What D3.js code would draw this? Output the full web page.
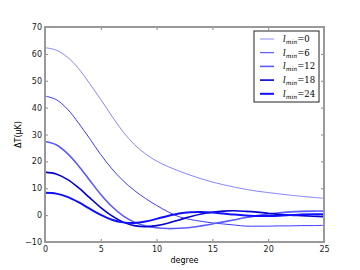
<!DOCTYPE html>
<meta charset="utf-8">
<script src="https://d3js.org/d3.v7.min.js"></script>
<style>
  body { margin: 0; background: #fff; }
</style>
<div id="chart"></div>
<script>

// data, one value per degree 0..25
var degrees = d3.range(0, 26);
var lmins = [0, 6, 12, 18, 24];
var l0  = [62.3, 61.4, 58.8, 54.6, 49.0, 43.0, 36.8, 31.0, 26.3, 22.8, 20.1, 18.1, 16.4, 14.9, 13.5, 12.3, 11.3, 10.4, 9.6, 8.9, 8.4, 7.9, 7.4, 7.0, 6.6, 6.3];
var l6  = [44.3, 43.0, 39.5, 34.3, 28.5, 22.5, 17.2, 12.8, 9.2, 6.2, 3.6, 1.3, -0.6, -1.6, -2.3, -2.9, -3.3, -3.7, -4.1, -4.1, -4.1, -4.0, -4.0, -3.9, -3.9, -3.8];
var l12 = [27.4, 26.2, 23.0, 18.4, 13.0, 7.7, 3.2, -0.3, -2.6, -4.0, -4.7, -5.0, -4.9, -4.6, -4.0, -3.3, -2.5, -1.7, -0.9, -0.2, 0.4, 0.9, 1.2, 1.4, 1.5, 1.5];
var l18 = [16.0, 15.3, 13.3, 10.2, 6.5, 2.8, -0.3, -2.6, -3.9, -4.3, -3.9, -3.0, -1.8, -0.6, 0.4, 1.1, 1.5, 1.6, 1.4, 1.1, 0.7, 0.3, 0.0, -0.2, -0.4, -0.6];
var l24 = [8.3, 8.0, 6.8, 4.8, 2.4, 0.1, -1.7, -2.7, -2.9, -2.4, -1.4, -0.3, 0.6, 1.1, 1.2, 1.0, 0.6, 0.2, -0.1, -0.3, -0.3, -0.2, 0.0, 0.2, 0.3, 0.3];
var xTicks = [0, 5, 10, 15, 20, 25];
var yTicks = [-10, 0, 10, 20, 30, 40, 50, 60, 70];

var series = [
  {lmin: lmins[0], values: l0,  color: "#8888ff", width: 1},
  {lmin: lmins[1], values: l6,  color: "#3c3cff", width: 1},
  {lmin: lmins[2], values: l12, color: "#5a5aff", width: 1.6},
  {lmin: lmins[3], values: l18, color: "#0000d0", width: 1.6},
  {lmin: lmins[4], values: l24, color: "#1010ff", width: 2}
];

var W = 360, H = 270;
var margin = {top: 27, right: 36, bottom: 28, left: 45},
    width = W - margin.left - margin.right,
    height = H - margin.top - margin.bottom;

var svg = d3.select("#chart")
  .append("svg")
    .attr("width", W)
    .attr("height", H)
  .append("g")
    .attr("transform", "translate(" + margin.left + "," + margin.top + ")");

var x = d3.scaleLinear().domain([0, 25]).range([0, width]);
var y = d3.scaleLinear().domain([-10, 70]).range([height, 0]);

// curves
var line = d3.line()
  .x(function(d, i) { return x(degrees[i]); })
  .y(function(d) { return y(d); })
  .curve(d3.curveCatmullRom);

svg.append("g")
  .selectAll("path")
  .data(series)
  .enter()
  .append("path")
    .attr("fill", "none")
    .attr("stroke", function(d) { return d.color; })
    .attr("stroke-width", function(d) { return d.width; })
    .attr("d", function(d) { return line(d.values); });

// axes, ticks inside on all four sides
function styleAxis(g) {
  g.select(".domain").remove();
  g.selectAll(".tick line").attr("stroke", "#888").attr("stroke-width", 1);
  g.selectAll(".tick text").attr("fill", "#222")
    .style("font-family", "DejaVu Sans").style("font-size", "8px");
}

svg.append("g")
  .attr("transform", "translate(0," + height + ")")
  .call(d3.axisBottom(x).tickValues(xTicks).tickSize(-3).tickPadding(4))
  .call(styleAxis);

svg.append("g")
  .call(d3.axisTop(x).tickValues(xTicks).tickSize(-3).tickFormat(""))
  .call(styleAxis);

svg.append("g")
  .call(d3.axisLeft(y).tickValues(yTicks).tickSize(-3).tickPadding(3))
  .call(styleAxis);

svg.append("g")
  .attr("transform", "translate(" + width + ",0)")
  .call(d3.axisRight(y).tickValues(yTicks).tickSize(-3).tickFormat(""))
  .call(styleAxis);

// frame
svg.append("rect")
  .attr("width", width)
  .attr("height", height)
  .attr("fill", "none")
  .attr("stroke", "#999")
  .attr("stroke-width", 2);

// axis labels
svg.append("text")
  .attr("x", width / 2)
  .attr("y", height + 21)
  .attr("text-anchor", "middle")
  .style("font-family", "DejaVu Sans")
  .style("font-size", "8px")
  .text("degree");

svg.append("text")
  .attr("transform", "rotate(-90)")
  .attr("x", -(y(30) + 0))
  .attr("y", -24)
  .attr("text-anchor", "middle")
  .style("font-family", "DejaVu Sans")
  .style("font-size", "8px")
  .text("ΔT(μK)");

// legend
var legend = svg.append("g")
  .attr("transform", "translate(" + (254 - margin.left) + "," + (31 - margin.top) + ")");

legend.append("rect")
  .attr("width", 65)
  .attr("height", 71)
  .attr("fill", "#fff")
  .attr("stroke", "#222")
  .attr("stroke-width", 1);

var item = legend.selectAll(".item")
  .data(series)
  .enter()
  .append("g")
    .attr("transform", function(d, i) { return "translate(0," + (8 + i * 13.7) + ")"; });

item.append("line")
  .attr("x1", 6).attr("x2", 20)
  .attr("stroke", function(d) { return d.color; })
  .attr("stroke-width", function(d) { return d.width; });

var t = item.append("text")
  .attr("x", 29)
  .attr("y", 3)
  .style("font-family", "DejaVu Serif")
  .style("font-size", "8.5px");

t.append("tspan").style("font-style", "italic").text("l");
t.append("tspan").attr("dy", 2).style("font-style", "italic").style("font-size", "6px").text("min");
t.append("tspan").attr("dy", -2).text(function(d) { return "=" + d.lmin; });

</script>
